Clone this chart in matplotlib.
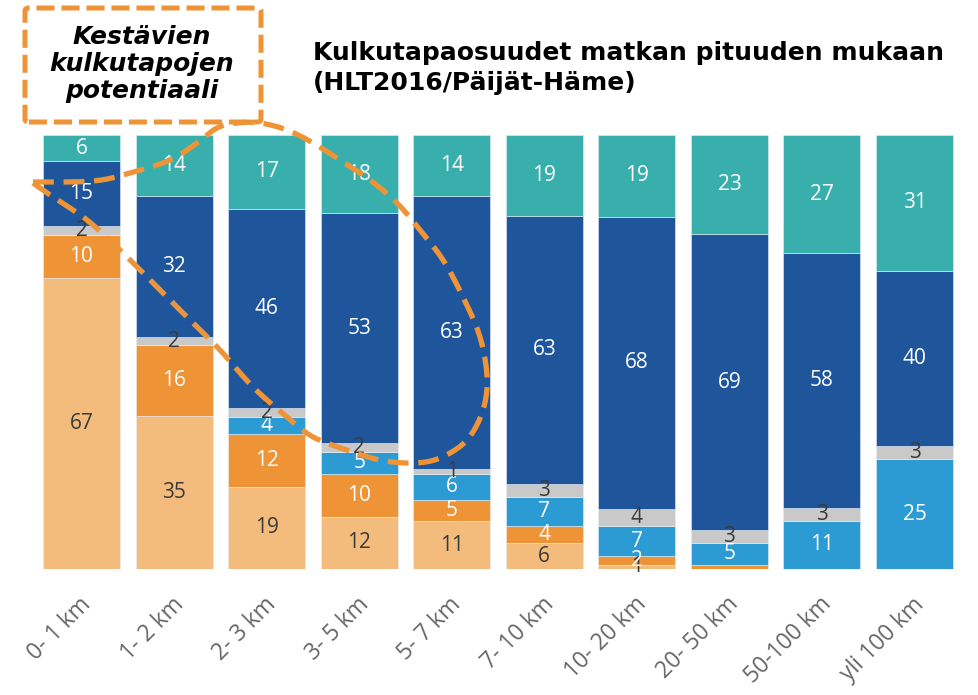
import numpy as np
import matplotlib
matplotlib.use("Agg")
import matplotlib.pyplot as plt
from matplotlib.patches import FancyBboxPatch
from matplotlib.lines import Line2D
import matplotlib.transforms as mtransforms

# ---- data ----
categories = ["0- 1 km", "1- 2 km", "2- 3 km", "3- 5 km", "5- 7 km",
              "7- 10 km", "10- 20 km", "20- 50 km", "50-100 km", "yli 100 km"]
kavely = [67, 35, 19, 12, 11, 6, 1, 0, 0, 0]
pyoraily = [10, 16, 12, 10, 5, 4, 2, 1, 0, 0]
joukkoliikenne = [0, 0, 4, 5, 6, 7, 7, 5, 11, 25]
muu = [2, 2, 2, 2, 1, 3, 4, 3, 3, 3]
auto_kuljettaja = [15, 32, 46, 53, 63, 63, 68, 69, 58, 40]
auto_matkustaja = [6, 14, 17, 18, 14, 19, 19, 23, 27, 31]
series_names = ["Kävely", "Pyöräily", "Joukkoliikenne", "Muu",
                "Henkilöauto, kuljettaja", "Henkilöauto, matkustaja"]
hidden_labels = [("20- 50 km", "Pyöräily")]

title = "Kulkutapaosuudet matkan pituuden mukaan\n(HLT2016/Päijät-Häme)"
note = "Kestävien\nkulkutapojen\npotentiaali"

# ---- styles ----
colors = ["#F4BC7C", "#EE9437", "#2C9AD3", "#C9C9C9", "#1F569B", "#38AFAC"]
text_colors = ["#3a3a3a", "white", "white", "#3a3a3a", "white", "white"]
orange = "#EE9437"

W, H = 979, 695
fig = plt.figure(figsize=(W / 100, H / 100), dpi=100)
fig.patch.set_facecolor("white")

def fx(px):
    return px / W

def fy(py):
    return 1 - py / H

ax = fig.add_axes([fx(35.2), fy(569), fx(960.8) - fx(35.2), fy(135) - fy(569)])

series = [kavely, pyoraily, joukkoliikenne, muu, auto_kuljettaja, auto_matkustaja]
data = np.array(series, dtype=float)
totals = data.sum(axis=0)
shares = data / totals * 100
x = np.arange(len(categories))
bottom = np.zeros(len(categories))
label_font = "Open Sans"
for si, (name, vals) in enumerate(zip(series_names, shares)):
    ax.bar(x, vals, bottom=bottom, width=0.832, color=colors[si],
           edgecolor="#e8eef5", linewidth=0.4, label=name)
    for ci in range(len(categories)):
        raw = series[si][ci]
        if raw <= 0 or (categories[ci], name) in hidden_labels:
            continue
        ax.text(x[ci], bottom[ci] + vals[ci] / 2, str(raw), ha="center",
                va="center", color=text_colors[si], fontsize=15,
                family=label_font)
    bottom += vals

ax.set_xlim(-0.5, len(categories) - 0.5)
ax.set_ylim(0, 100)
for s in ax.spines.values():
    s.set_visible(False)
ax.set_yticks([])
ax.set_xticks(x)
ax.set_xticklabels(categories, rotation=45, ha="right", va="center",
                   rotation_mode="anchor", fontsize=16.5, color="#666666",
                   family=label_font)
ax.tick_params(axis="x", length=0, pad=23)
offset = mtransforms.ScaledTranslation(6 / 100, 0, fig.dpi_scale_trans)
for lab in ax.get_xticklabels():
    lab.set_transform(lab.get_transform() + offset)

# ---- title ----
fig.text(fx(313), fy(41), title, ha="left", va="top", fontsize=18,
         fontweight="bold", family="DejaVu Sans", color="black",
         linespacing=1.3)

# ---- note box ----
plt.rcParams["lines.scale_dashes"] = False
box = FancyBboxPatch((fx(25), fy(122)), fx(261) - fx(25), fy(8) - fy(122),
                     boxstyle="round,pad=0,rounding_size=0.004",
                     transform=fig.transFigure, facecolor="none",
                     edgecolor=orange, linewidth=3.6,
                     linestyle=(0, (13, 5)), zorder=5)
fig.add_artist(box)
fig.text(fx(142), fy(64), note, ha="center", va="center", fontsize=18,
         fontweight="bold", style="italic", family="DejaVu Sans",
         color="black", linespacing=1.18, zorder=6)

# ---- dashed loop (annotation shape, pixel coords) ----
loop_px = [(33, 182), (93, 181), (130, 173), (170, 160), (197, 143),
           (217, 128), (237, 123), (260, 123), (287, 130), (313, 143),
           (340, 160), (370, 180), (397, 203), (420, 230), (443, 260),
           (463, 297), (480, 337), (487, 377), (483, 410), (467, 440),
           (440, 458), (413, 463), (380, 460), (347, 450), (313, 437),
           (287, 417), (253, 387), (220, 350), (187, 317), (153, 283),
           (120, 250), (87, 220), (53, 197), (33, 183)]

def catmull(points, n=12):
    P = np.array(points, dtype=float)
    P = np.vstack([P[0], P, P[-1]])
    out = []
    for i in range(1, len(P) - 2):
        p0, p1, p2, p3 = P[i - 1], P[i], P[i + 1], P[i + 2]
        for t in np.linspace(0, 1, n, endpoint=False):
            t2, t3 = t * t, t * t * t
            out.append(0.5 * ((2 * p1) + (-p0 + p2) * t +
                              (2 * p0 - 5 * p1 + 4 * p2 - p3) * t2 +
                              (-p0 + 3 * p1 - 3 * p2 + p3) * t3))
    out.append(P[-2])
    return np.array(out)

curve = catmull(loop_px)
line = Line2D(fx(curve[:, 0]), fy(curve[:, 1]), transform=fig.transFigure,
              color=orange, linewidth=3.8, linestyle=(0, (15, 7)),
              solid_capstyle="butt", dash_capstyle="butt", zorder=7)
fig.add_artist(line)

fig.savefig("out.png", dpi=100, facecolor="white")
